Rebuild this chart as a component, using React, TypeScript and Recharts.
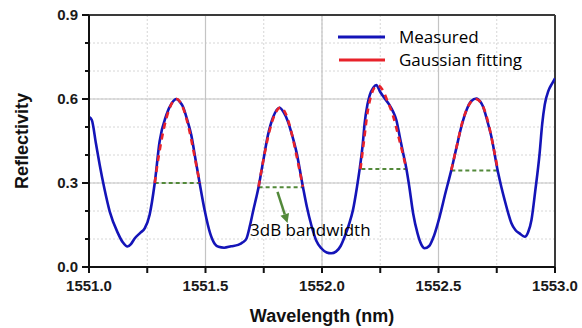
import React from 'react';
import { ComposedChart, Line, XAxis, YAxis, CartesianGrid, ReferenceLine, ReferenceDot, Label } from 'recharts';

// measured spectrum: [wavelength nm, reflectivity]
const measured: [number, number][] = [
  [1551.0, 0.536], [1551.012, 0.525], [1551.03, 0.44], [1551.046, 0.364], [1551.066, 0.28],
  [1551.089, 0.198], [1551.124, 0.121], [1551.145, 0.088], [1551.165, 0.073], [1551.18, 0.082],
  [1551.196, 0.102], [1551.22, 0.122], [1551.239, 0.138], [1551.26, 0.186], [1551.282, 0.299],
  [1551.303, 0.448], [1551.332, 0.543], [1551.355, 0.585], [1551.375, 0.6], [1551.39, 0.59],
  [1551.403, 0.573], [1551.42, 0.53], [1551.439, 0.471], [1551.457, 0.385], [1551.475, 0.299],
  [1551.497, 0.2], [1551.52, 0.12], [1551.54, 0.082], [1551.556, 0.072], [1551.58, 0.069],
  [1551.61, 0.074], [1551.64, 0.079], [1551.66, 0.088], [1551.676, 0.102], [1551.69, 0.145],
  [1551.704, 0.198], [1551.728, 0.287], [1551.748, 0.38], [1551.768, 0.471], [1551.79, 0.535],
  [1551.818, 0.569], [1551.835, 0.553], [1551.854, 0.519], [1551.872, 0.47], [1551.89, 0.412],
  [1551.918, 0.287], [1551.935, 0.215], [1551.954, 0.15], [1551.975, 0.095], [1551.997, 0.067],
  [1552.02, 0.052], [1552.04, 0.049], [1552.06, 0.055], [1552.08, 0.075], [1552.097, 0.108],
  [1552.115, 0.15], [1552.133, 0.204], [1552.15, 0.285], [1552.162, 0.352], [1552.175, 0.44],
  [1552.183, 0.513], [1552.195, 0.58], [1552.205, 0.614], [1552.22, 0.64], [1552.233, 0.65],
  [1552.25, 0.625], [1552.269, 0.602], [1552.29, 0.578], [1552.305, 0.555], [1552.319, 0.525],
  [1552.335, 0.46], [1552.35, 0.4], [1552.362, 0.352], [1552.375, 0.285], [1552.391, 0.192],
  [1552.41, 0.12], [1552.427, 0.079], [1552.44, 0.067], [1552.46, 0.075], [1552.48, 0.11],
  [1552.505, 0.18], [1552.53, 0.265], [1552.555, 0.346], [1552.578, 0.43], [1552.598, 0.501],
  [1552.62, 0.56], [1552.64, 0.592], [1552.663, 0.602], [1552.68, 0.59], [1552.691, 0.573],
  [1552.71, 0.52], [1552.727, 0.465], [1552.755, 0.34], [1552.77, 0.285], [1552.784, 0.239],
  [1552.8, 0.19], [1552.813, 0.156], [1552.83, 0.132], [1552.848, 0.12], [1552.87, 0.108],
  [1552.885, 0.125], [1552.899, 0.168], [1552.915, 0.27], [1552.934, 0.406], [1552.945, 0.51],
  [1552.956, 0.58], [1552.972, 0.63], [1552.988, 0.656], [1553.0, 0.674],
];

// gaussian fits, one per peak
const fit1: [number, number][] = [
  [1551.282, 0.3], [1551.3, 0.4], [1551.32, 0.49], [1551.345, 0.565], [1551.375, 0.6],
  [1551.405, 0.565], [1551.43, 0.49], [1551.452, 0.4], [1551.475, 0.3],
];
const fit2: [number, number][] = [
  [1551.728, 0.287], [1551.748, 0.38], [1551.77, 0.47], [1551.795, 0.54], [1551.822, 0.57],
  [1551.848, 0.54], [1551.872, 0.47], [1551.895, 0.38], [1551.918, 0.287],
];
const fit3: [number, number][] = [
  [1552.165, 0.35], [1552.18, 0.45], [1552.195, 0.55], [1552.21, 0.61], [1552.225, 0.64],
  [1552.24, 0.648], [1552.258, 0.635], [1552.28, 0.595], [1552.305, 0.54], [1552.33, 0.46],
  [1552.348, 0.4], [1552.362, 0.35],
];
const fit4: [number, number][] = [
  [1552.555, 0.346], [1552.578, 0.43], [1552.6, 0.51], [1552.625, 0.57], [1552.66, 0.6],
  [1552.69, 0.575], [1552.715, 0.51], [1552.735, 0.43], [1552.755, 0.346],
];
const fits = [fit1, fit2, fit3, fit4];

// 3dB bandwidth levels: [start, end, level]
const bandwidths: [number, number, number][] = [
  [1551.282, 1551.476, 0.3],
  [1551.728, 1551.923, 0.285],
  [1552.169, 1552.362, 0.35],
  [1552.555, 1552.755, 0.345],
];
const arrowFrom = { x: 1551.809, y: 0.268 };
const arrowTo = { x: 1551.852, y: 0.157 };
const noteAt = { x: 1551.95, y: 0.132 };

const xTicks = [1551, 1551.25, 1551.5, 1551.75, 1552, 1552.25, 1552.5, 1552.75, 1553];
const yTicks = [0, 0.1, 0.2, 0.3, 0.4, 0.5, 0.6, 0.7, 0.8, 0.9];
const majorX = [1551.5, 1552, 1552.5];
const majorY = [0.3, 0.6];

const BLUE = '#1414b8';
const RED = '#e8222a';
const GREEN = '#53893a';
const tickFont = { fontFamily: '"Liberation Sans", Arial, sans-serif', fontWeight: 700, fontSize: 15, fill: '#1a1a1a' };
const noteFont = { fontFamily: '"Open Sans", sans-serif', fontSize: 17, fill: '#000' };

const pts = (arr: [number, number][]) => arr.map(([wl, r]) => ({ wl, r }));

const XTick = ({ x, y, payload }: any) => {
  const v = payload.value;
  const major = Math.abs(v * 2 - Math.round(v * 2)) < 1e-6;
  return (
    <g>
      <line x1={x} x2={x} y1={y} y2={y + 6} stroke="#111" strokeWidth={2} />
      {major && (
        <text x={x} y={y + 24} textAnchor="middle" style={tickFont}>
          {v.toFixed(1)}
        </text>
      )}
    </g>
  );
};

const YTick = ({ x, y, payload }: any) => {
  const v = payload.value;
  const major = Math.abs(v / 0.3 - Math.round(v / 0.3)) < 1e-6;
  return (
    <g>
      <line x1={x} x2={x - (major ? 7 : 4)} y1={y} y2={y} stroke="#111" strokeWidth={2} />
      {major && (
        <text x={x - 11} y={y} dy={5} textAnchor="end" style={tickFont}>
          {v.toFixed(1)}
        </text>
      )}
    </g>
  );
};

const Arrow = (p: any) => {
  const { x1, y1, x2, y2 } = p;
  const a = Math.atan2(y2 - y1, x2 - x1);
  const L = 9;
  const W = 4.5;
  const bx = x2 - L * Math.cos(a);
  const by = y2 - L * Math.sin(a);
  const px = -Math.sin(a) * W;
  const py = Math.cos(a) * W;
  return (
    <g>
      <line x1={x1} y1={y1} x2={bx} y2={by} stroke={GREEN} strokeWidth={2.5} />
      <polygon points={`${x2},${y2} ${bx + px},${by + py} ${bx - px},${by - py}`} fill={GREEN} />
    </g>
  );
};

const Legend = () => (
  <svg width={582} height={328} style={{ position: 'absolute', left: 0, top: 0, pointerEvents: 'none' }}>
    <line x1={338} x2={385} y1={37} y2={37} stroke={BLUE} strokeWidth={3} />
    <text x={399} y={43} style={noteFont}>Measured</text>
    <line x1={339} x2={385} y1={60} y2={60} stroke={RED} strokeWidth={3} />
    <text x={399} y={66} style={noteFont}>Gaussian fitting</text>
  </svg>
);

export default function App() {
  return (
    <div style={{ position: 'absolute', left: 0, top: 0, width: 582, height: 328, background: '#fff' }}>
      <ComposedChart width={582} height={328} margin={{ top: 15, right: 27, left: 0, bottom: 0 }}>
        <CartesianGrid stroke="#d6d6d6" strokeDasharray="2 2" />
        <XAxis
          dataKey="wl"
          type="number"
          domain={[1551, 1553]}
          ticks={xTicks}
          allowDataOverflow
          height={61}
          tickSize={0}
          tickMargin={0}
          tickLine={false}
          tick={<XTick />}
          axisLine={{ stroke: '#111', strokeWidth: 2 }}
        >
          <Label
            value="Wavelength (nm)"
            position="insideBottom"
            offset={6}
            style={{ fontFamily: '"Liberation Sans", Arial, sans-serif', fontWeight: 700, fontSize: 18, fill: '#111' }}
          />
        </XAxis>
        <YAxis
          type="number"
          domain={[0, 0.9]}
          ticks={yTicks}
          allowDataOverflow
          width={89}
          tickSize={0}
          tickMargin={0}
          tickLine={false}
          tick={<YTick />}
          axisLine={{ stroke: '#111', strokeWidth: 2 }}
        >
          <Label
            content={({ viewBox }: any) => {
              const cy = viewBox.y + viewBox.height / 2;
              return (
                <text
                  x={22}
                  y={cy}
                  transform={`rotate(-90 22 ${cy})`}
                  textAnchor="middle"
                  dy={6}
                  style={{ fontFamily: '"Liberation Sans", Arial, sans-serif', fontWeight: 700, fontSize: 18, fill: '#111' }}
                >
                  Reflectivity
                </text>
              );
            }}
          />
        </YAxis>
        {majorX.map((v) => (
          <ReferenceLine key={'mx' + v} x={v} stroke="#c4c4c4" strokeWidth={1.2} />
        ))}
        {majorY.map((v) => (
          <ReferenceLine key={'my' + v} y={v} stroke="#c4c4c4" strokeWidth={1.2} />
        ))}
        <ReferenceLine y={0.9} stroke="#3a3a3a" strokeWidth={2} />
        <ReferenceLine x={1553} stroke="#3a3a3a" strokeWidth={2} />
        {bandwidths.map(([a, b, lvl], i) => (
          <Line
            key={'bw' + i}
            data={pts([[a, lvl], [b, lvl]])}
            dataKey="r"
            stroke={GREEN}
            strokeWidth={2}
            strokeDasharray="4 3"
            dot={false}
            isAnimationActive={false}
          />
        ))}
        <Line
          data={pts(measured)}
          dataKey="r"
          type="monotone"
          stroke={BLUE}
          strokeWidth={2.6}
          dot={false}
          isAnimationActive={false}
        />
        {fits.map((f, i) => (
          <Line
            key={'fit' + i}
            data={pts(f)}
            dataKey="r"
            type="monotone"
            stroke={RED}
            strokeWidth={2.6}
            strokeDasharray="6 5"
            dot={false}
            isAnimationActive={false}
          />
        ))}
        <ReferenceLine segment={[arrowFrom, arrowTo]} shape={Arrow} />
        <ReferenceDot
          x={noteAt.x}
          y={noteAt.y}
          r={0}
          shape={(p: any) => (
            <text x={p.cx} y={p.cy} dy={6} textAnchor="middle" style={noteFont}>
              3dB bandwidth
            </text>
          )}
        />
      </ComposedChart>
      <Legend />
    </div>
  );
}
